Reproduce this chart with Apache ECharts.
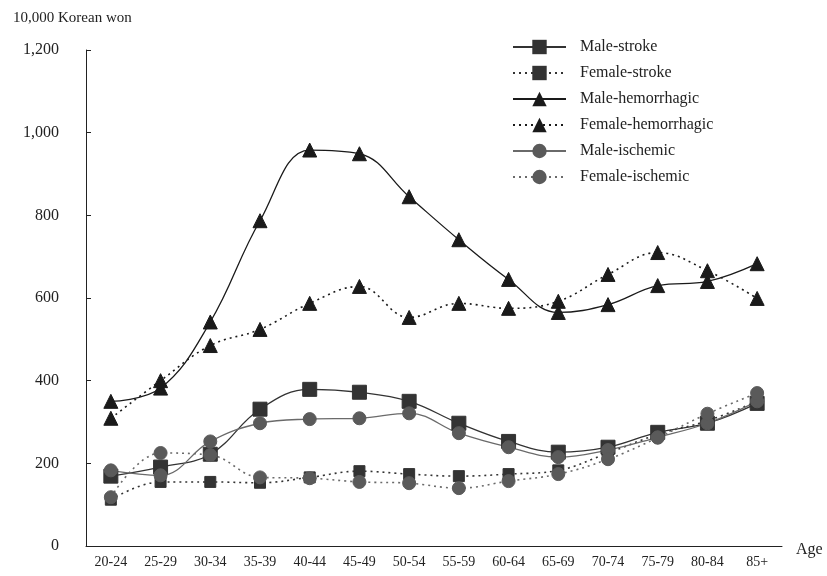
<!DOCTYPE html>
<html>
<head>
<meta charset="utf-8">
<script src="https://cdn.jsdelivr.net/npm/echarts@6/dist/echarts.min.js"></script>
<style>html,body{margin:0;padding:0;background:#fff}#c{width:827px;height:576px}</style>
</head>
<body>
<div id="c"></div>
<script>
const categories = ['20-24','25-29','30-34','35-39','40-44','45-49','50-54','55-59','60-64','65-69','70-74','75-79','80-84','85+'];
const yTicks = [0, 200, 400, 600, 800, 1000, 1200];

const maleStroke       = [169, 191, 222, 331, 379, 372, 350, 297, 253, 227, 239, 275, 297, 345];
const femaleStroke     = [112, 155, 155, 153, 166, 181, 174, 169, 174, 183, 225, 270, 303, 350];
const maleHemorrhagic  = [350, 382, 542, 787, 958, 949, 845, 741, 645, 565, 584, 630, 640, 683];
const femaleHemorrhagic= [309, 400, 485, 524, 587, 628, 553, 587, 575, 592, 657, 710, 666, 599];
const maleIschemic     = [183, 171, 253, 297, 307, 309, 321, 273, 239, 215, 232, 263, 297, 350];
const femaleIschemic   = [118, 225, 220, 166, 164, 155, 152, 140, 157, 174, 210, 262, 320, 370];

const serif = 'Liberation Serif';
function mk(name, data, symbol, size, color, lineColor, dashed) {
  return {
    name, type: 'line', data, symbol, symbolSize: size, smooth: 0.4,
    itemStyle: { color: color, borderColor: color },
    lineStyle: { color: lineColor, width: dashed ? 1.6 : 1.3, type: dashed ? [2, 4] : 'solid' },
    emphasis: { disabled: true }
  };
}

const chart = echarts.init(document.getElementById('c'), null, { renderer: 'canvas' });
chart.setOption({
  animation: false,
  backgroundColor: '#fff',
  textStyle: { fontFamily: serif, color: '#222' },
  title: {
    text: '10,000 Korean won', left: 8, top: 6,
    textStyle: { fontFamily: serif, fontSize: 15, fontWeight: 'normal', color: '#222' }
  },
  legend: {
    orient: 'vertical', left: 507, top: 34,
    itemWidth: 53, itemHeight: 18, itemGap: 10,
    textStyle: { fontFamily: serif, fontSize: 16, color: '#222', padding: [0, 0, 0, 9] },
    data: ['Male-stroke','Female-stroke','Male-hemorrhagic','Female-hemorrhagic','Male-ischemic','Female-ischemic']
  },
  grid: { left: 86, right: 45, top: 50, bottom: 30, containLabel: false },
  xAxis: {
    type: 'category', data: categories, boundaryGap: true,
    name: 'Age', nameLocation: 'end', nameGap: 14,
    nameTextStyle: { fontFamily: serif, fontSize: 16, color: '#222', verticalAlign: 'top', padding: [-4, 0, 0, 0] },
    axisLine: { lineStyle: { color: '#222', width: 1 } },
    axisTick: { inside: true, length: 5, lineStyle: { color: '#222' } },
    axisLabel: { fontFamily: serif, fontSize: 14, color: '#222', margin: 9 }
  },
  yAxis: {
    type: 'value', min: 0, max: 1200, interval: 200,
    axisLine: { show: true, lineStyle: { color: '#222', width: 1 } },
    axisTick: { show: true, inside: true, length: 5, lineStyle: { color: '#222' } },
    splitLine: { show: false },
    axisLabel: { fontFamily: serif, fontSize: 16, color: '#222', margin: 27,
      formatter: v => yTicks.includes(v) ? v.toLocaleString('en-US') : '' }
  },
  series: [
    mk('Male-stroke', maleStroke, 'rect', 14, '#333', '#333', false),
    mk('Female-stroke', femaleStroke, 'rect', 11, '#333', '#333', true),
    mk('Male-hemorrhagic', maleHemorrhagic, 'triangle', 14, '#1a1a1a', '#1a1a1a', false),
    mk('Female-hemorrhagic', femaleHemorrhagic, 'triangle', 14, '#1a1a1a', '#1a1a1a', true),
    mk('Male-ischemic', maleIschemic, 'circle', 13, '#5a5a5a', '#6a6a6a', false),
    mk('Female-ischemic', femaleIschemic, 'circle', 13, '#5a5a5a', '#6a6a6a', true)
  ]
});
</script>
</body>
</html>
